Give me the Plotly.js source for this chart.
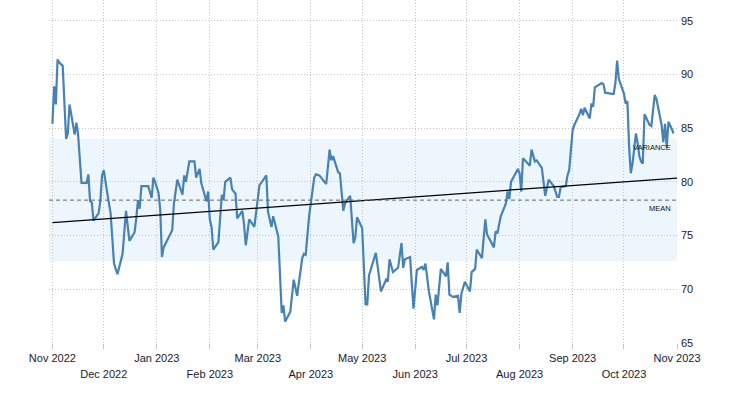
<!DOCTYPE html>
<html>
<head>
<meta charset="utf-8">
<script src="https://cdn.plot.ly/plotly-3.0.1.min.js"></script>
<style>html,body{margin:0;padding:0;background:#fff;}#chart{width:730px;height:400px;}</style>
</head>
<body>
<div id="chart"></div>
<script>
const dates = ['2022-11-01','2022-11-02','2022-11-03','2022-11-04','2022-11-05','2022-11-07','2022-11-09','2022-11-10','2022-11-11','2022-11-14','2022-11-15','2022-11-16','2022-11-18','2022-11-21','2022-11-22','2022-11-23','2022-11-24','2022-11-25','2022-11-28','2022-11-29','2022-11-30','2022-12-01','2022-12-03','2022-12-05','2022-12-07','2022-12-09','2022-12-12','2022-12-14','2022-12-16','2022-12-19','2022-12-20','2022-12-21','2022-12-22','2022-12-23','2022-12-27','2022-12-29','2022-12-30','2022-12-31','2023-01-02','2023-01-03','2023-01-04','2023-01-05','2023-01-10','2023-01-11','2023-01-13','2023-01-16','2023-01-17','2023-01-18','2023-01-20','2023-01-23','2023-01-24','2023-01-26','2023-01-27','2023-01-30','2023-01-31','2023-02-01','2023-02-02','2023-02-03','2023-02-06','2023-02-07','2023-02-08','2023-02-09','2023-02-10','2023-02-13','2023-02-14','2023-02-16','2023-02-17','2023-02-20','2023-02-21','2023-02-22','2023-02-24','2023-02-27','2023-02-28','2023-03-01','2023-03-02','2023-03-03','2023-03-06','2023-03-07','2023-03-09','2023-03-10','2023-03-13','2023-03-15','2023-03-16','2023-03-17','2023-03-20','2023-03-22','2023-03-24','2023-03-27','2023-03-28','2023-03-29','2023-03-31','2023-04-03','2023-04-04','2023-04-06','2023-04-10','2023-04-12','2023-04-13','2023-04-14','2023-04-17','2023-04-18','2023-04-20','2023-04-21','2023-04-24','2023-04-26','2023-04-27','2023-04-28','2023-05-01','2023-05-03','2023-05-04','2023-05-05','2023-05-09','2023-05-12','2023-05-15','2023-05-16','2023-05-17','2023-05-19','2023-05-22','2023-05-24','2023-05-25','2023-05-26','2023-05-29','2023-05-31','2023-06-02','2023-06-05','2023-06-06','2023-06-07','2023-06-09','2023-06-12','2023-06-13','2023-06-14','2023-06-16','2023-06-19','2023-06-20','2023-06-21','2023-06-23','2023-06-26','2023-06-27','2023-06-28','2023-06-30','2023-07-03','2023-07-04','2023-07-06','2023-07-07','2023-07-10','2023-07-11','2023-07-12','2023-07-13','2023-07-17','2023-07-18','2023-07-19','2023-07-21','2023-07-24','2023-07-25','2023-07-26','2023-07-27','2023-07-31','2023-08-01','2023-08-02','2023-08-03','2023-08-07','2023-08-08','2023-08-10','2023-08-11','2023-08-14','2023-08-16','2023-08-18','2023-08-21','2023-08-23','2023-08-24','2023-08-25','2023-08-28','2023-08-29','2023-08-30','2023-09-01','2023-09-02','2023-09-04','2023-09-05','2023-09-06','2023-09-07','2023-09-08','2023-09-11','2023-09-12','2023-09-13','2023-09-14','2023-09-18','2023-09-19','2023-09-20','2023-09-24','2023-09-25','2023-09-26','2023-09-27','2023-09-28','2023-10-01','2023-10-02','2023-10-03','2023-10-04','2023-10-05','2023-10-06','2023-10-08','2023-10-09','2023-10-10','2023-10-11','2023-10-12','2023-10-13','2023-10-16','2023-10-17','2023-10-19','2023-10-20','2023-10-23','2023-10-24','2023-10-25','2023-10-26','2023-10-27','2023-10-29','2023-10-30'];
const values = [85.4,88.9,87.2,91.4,91.1,90.8,84.0,84.5,87.2,84.4,85.5,84.4,79.9,79.9,80.7,78.2,78.1,76.4,77.1,78.2,80.6,81.1,79.0,77.1,72.4,71.4,73.3,77.3,74.5,75.3,76.6,78.3,77.5,79.6,79.6,78.5,80.4,80.0,79.0,77.4,73.0,73.9,75.5,78.0,80.2,78.8,80.6,80.0,81.9,81.9,80.4,81.2,79.9,78.2,79.1,76.5,75.8,73.7,74.4,77.2,78.8,78.3,80.0,80.4,79.3,78.9,76.6,77.3,76.0,74.1,76.5,75.8,77.2,78.2,79.7,79.9,80.6,77.2,75.8,76.8,74.9,67.8,68.5,67.0,67.9,70.9,69.4,72.9,73.3,73.2,76.8,80.4,80.7,80.6,79.8,83.0,82.0,82.4,80.9,80.8,77.3,78.0,78.7,74.3,74.8,76.7,75.7,68.6,68.6,71.3,73.4,69.8,70.9,70.7,72.8,71.6,72.0,74.3,72.0,72.8,73.0,68.2,71.8,72.1,71.8,72.4,69.8,67.2,69.5,68.5,71.9,71.2,72.5,69.5,69.3,69.4,67.8,69.6,70.7,69.8,71.6,71.9,73.7,72.9,74.8,76.5,75.1,73.9,75.4,75.2,76.8,78.0,79.1,78.4,80.0,81.2,80.8,79.1,82.2,81.5,83.0,81.9,82.0,81.3,78.7,80.2,79.6,78.6,78.6,79.5,79.6,80.6,81.1,84.8,85.3,85.9,86.3,86.8,86.2,86.9,85.9,87.3,87.0,88.8,89.2,89.1,88.3,88.2,88.2,89.2,91.3,89.6,88.2,87.3,87.5,83.3,80.8,81.7,84.5,83.6,82.4,81.9,81.7,86.3,85.3,85.2,88.1,87.7,85.3,83.7,85.4,83.2,85.6,84.9,84.5];

const trendDates = ['2022-11-01','2023-11-01'];
const trendValues = [76.2, 80.35];
const meanValue = 78.3;
const varianceLow = 72.6;
const varianceHigh = 84.0;

const oddMonthTicks = ['2022-11-01','2023-01-01','2023-03-01','2023-05-01','2023-07-01','2023-09-01','2023-11-01'];
const oddMonthLabels = ['Nov 2022','Jan 2023','Mar 2023','May 2023','Jul 2023','Sep 2023','Nov 2023'];
const evenMonthTicks = ['2022-12-01','2023-02-01','2023-04-01','2023-06-01','2023-08-01','2023-10-01'];
const evenMonthLabels = ['Dec 2022','Feb 2023','Apr 2023','Jun 2023','Aug 2023','Oct 2023'];
const yTicks = [65,70,75,80,85,90,95];

const xRange = ['2022-10-30','2023-11-01'];
const font = {family: 'Liberation Sans, Arial, sans-serif', size: 11, color: '#1a1a2a'};
const gridColor = '#c4c4c4';

const traces = [
  {x: dates, y: values, type: 'scatter', mode: 'lines', xaxis: 'x', yaxis: 'y',
   line: {color: '#4682b4', width: 2.2}, hoverinfo: 'skip'},
  {x: trendDates, y: trendValues, type: 'scatter', mode: 'lines', xaxis: 'x2', yaxis: 'y',
   line: {color: '#000', width: 1.2}, hoverinfo: 'skip'}
];

const layout = {
  width: 730, height: 400,
  margin: {l: 49, r: 53, t: 0, b: 57},
  paper_bgcolor: '#fff', plot_bgcolor: '#fff',
  showlegend: false,
  font: font,
  xaxis: {
    type: 'date', range: xRange,
    tickmode: 'array',
    tickvals: oddMonthTicks.concat(evenMonthTicks),
    ticktext: oddMonthLabels.concat(evenMonthLabels.map(() => '')),
    showgrid: true, gridcolor: gridColor, griddash: '1px,2px', gridwidth: 1,
    ticks: 'outside', ticklen: 5, tickcolor: gridColor,
    showline: false, zeroline: false, tickfont: font
  },
  xaxis2: {
    type: 'date', range: xRange, overlaying: 'x', anchor: 'y', side: 'bottom',
    tickmode: 'array', tickvals: evenMonthTicks, ticktext: evenMonthLabels,
    showgrid: false, ticks: '', ticklabelstandoff: 23,
    showline: false, zeroline: false, tickfont: font
  },
  yaxis: {
    range: [65, 96.93], side: 'right',
    tickmode: 'array', tickvals: yTicks,
    showgrid: true, gridcolor: gridColor, griddash: '1px,2px', gridwidth: 1,
    ticks: '', ticklabelstandoff: 3,
    showline: false, zeroline: false, tickfont: font
  },
  shapes: [
    {type: 'rect', xref: 'paper', yref: 'y', x0: 0, x1: 1, y0: varianceLow, y1: varianceHigh,
     fillcolor: '#eef6fd', line: {width: 0}, layer: 'below'},
    {type: 'line', xref: 'paper', yref: 'y', x0: 0, x1: 1, y0: meanValue, y1: meanValue,
     line: {color: '#666', width: 1, dash: '4px,3px'}}
  ],
  annotations: [
    {text: 'VARIANCE', xref: 'paper', yref: 'y', x: 0.994, y: varianceHigh - 0.8,
     xanchor: 'right', yanchor: 'middle', showarrow: false,
     font: {family: 'Liberation Sans, Arial, sans-serif', size: 7.5, color: '#111'}},
    {text: 'MEAN', xref: 'paper', yref: 'y', x: 0.994, y: meanValue - 0.8,
     xanchor: 'right', yanchor: 'middle', showarrow: false,
     font: {family: 'Liberation Sans, Arial, sans-serif', size: 7.5, color: '#111'}}
  ]
};

Plotly.newPlot('chart', traces, layout, {staticPlot: true, displayModeBar: false});
</script>
</body>
</html>
